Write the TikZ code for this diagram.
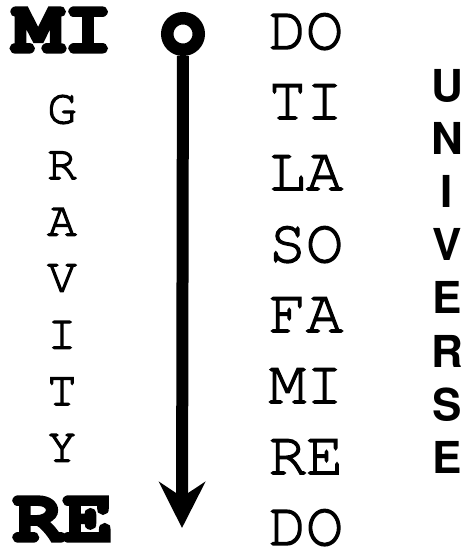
\documentclass[tikz,border=0pt]{standalone}
\usepackage[T1]{fontenc}
\usepackage{courier}
\usepackage{helvet}
\usepackage{tikz}
\usetikzlibrary{positioning, arrows.meta}
\newcommand\heavy[2]{\special{pdf:literal direct 2 Tr #1 w}#2\special{pdf:literal direct 0 Tr}}

\begin{document}
\begin{tikzpicture}[x=1pt, y=-1pt,
    bignote/.style={inner sep=0pt, transform shape, xscale=1.1, font=\ttfamily\bfseries\fontsize{76}{76}\selectfont},
    note/.style={inner sep=0pt, font=\ttfamily\fontsize{62}{62}\selectfont},
    grav/.style={inner sep=0pt, font=\ttfamily\fontsize{49}{49}\selectfont},
    uni/.style={inner sep=0pt, font=\sffamily\bfseries\fontsize{44}{44}\selectfont}]
            \useasboundingbox (0,0) rectangle (472,551);

            \node[bignote] (MI) at (63,31) {\heavy{3}{MI}};
            \node[bignote] (RE) at (63,520) {\heavy{3}{RE}};

            \node[grav] (g1) at (62,109) {\heavy{1.2}{G}};
            \node[grav] (g2) at (62,165.5) {\heavy{1.2}{R}};
            \node[grav] (g3) at (62,222) {\heavy{1.2}{A}};
            \node[grav] (g4) at (62,278.5) {\heavy{1.2}{V}};
            \node[grav] (g5) at (62,335) {\heavy{1.2}{I}};
            \node[grav] (g6) at (62,391.5) {\heavy{1.2}{T}};
            \node[grav] (g7) at (62,448) {\heavy{1.2}{Y}};

            \node[circle, draw, line width=12.5pt, minimum size=31.5pt, inner sep=0pt] (ring) at (183,34) {};
            \coordinate (tip) at (182,528);
            \draw[line width=12pt, -{Stealth[length=46pt, width=46pt, inset=15pt]}] (ring) -- (tip);

            \node[note] (n1) at (306,31) {\heavy{1.3}{DO}};
            \node[note] (n2) at (306,102) {\heavy{1.3}{TI}};
            \node[note] (n3) at (306,173) {\heavy{1.3}{LA}};
            \node[note] (n4) at (306,244) {\heavy{1.3}{SO}};
            \node[note] (n5) at (306,315) {\heavy{1.3}{FA}};
            \node[note] (n6) at (306,386) {\heavy{1.3}{MI}};
            \node[note] (n7) at (306,457) {\heavy{1.3}{RE}};
            \node[note] (n8) at (306,527) {\heavy{1.3}{DO}};

            \node[uni] (u1) at (447,86) {U};
            \node[uni] (u2) at (447,139) {N};
            \node[uni] (u3) at (447,192) {I};
            \node[uni] (u4) at (447,245) {V};
            \node[uni] (u5) at (447,298) {E};
            \node[uni] (u6) at (447,352) {R};
            \node[uni] (u7) at (447,405) {S};
            \node[uni] (u8) at (447,458) {E};
        \end{tikzpicture}
\end{document}
